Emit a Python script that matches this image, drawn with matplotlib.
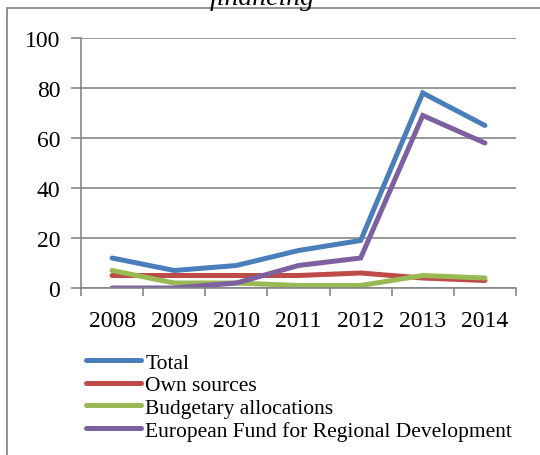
import matplotlib.pyplot as plt
from matplotlib.patches import Rectangle

years = ['2008', '2009', '2010', '2011', '2012', '2013', '2014']
total = [12, 7, 9, 15, 19, 78, 65]
own_sources = [5, 5, 5, 5, 6, 4, 3]
budgetary = [7, 2, 2, 1, 1, 5, 4]
efrd = [0, 0, 2, 9, 12, 69, 58]

labels = ['Total', 'Own sources', 'Budgetary allocations',
          'European Fund for Regional Development']
colors = ['#4A7EBB', '#BE4B48', '#98B954', '#7D60A0']

plt.rcParams['font.family'] = ['Liberation Serif', 'DejaVu Serif']

fig = plt.figure(figsize=(5.4, 4.56), dpi=100)
ax = fig.add_axes([81 / 540, 1 - 289 / 456, (516 - 81) / 540, (289 - 39) / 456])

# figure border (clipped on right and bottom)
fig.patches.append(Rectangle((7 / 540, -0.1), 1.2, 1 - 9 / 456 + 0.1,
                             transform=fig.transFigure, fill=False,
                             edgecolor='#7f7f7f', linewidth=1.2))

# title of the chart, cut off at the top like in the source
fig.text(262 / 540, 1 - 5 / 456, 'financing', ha='center', va='baseline',
         fontsize=20, style='italic')

x = range(len(years))
for vals, lab, col in zip([total, own_sources, budgetary, efrd], labels, colors):
    ax.plot(x, vals, color=col, linewidth=3.6, label=lab,
            solid_capstyle='round', solid_joinstyle='miter')

ax.set_xlim(-0.5, 6.5)
ax.set_ylim(0, 100)
ax.set_yticks(range(0, 101, 20))
ax.set_xticks(list(x))
ax.set_xticklabels(years)
ax.set_xticks([i - 0.5 for i in range(8)], minor=True)
ax.tick_params(axis='x', which='major', length=0, pad=15.5, labelsize=17)
ax.tick_params(axis='x', which='minor', length=6, color='#868686', width=1.2)
ax.tick_params(axis='y', length=7, color='#868686', width=1.2, labelsize=17, pad=8)
ax.grid(axis='y', color='#868686', linewidth=1.2)
ax.set_axisbelow(True)
for s in ['top', 'right']:
    ax.spines[s].set_visible(False)
for s in ['left', 'bottom']:
    ax.spines[s].set_color('#868686')
    ax.spines[s].set_linewidth(1.2)

fig.legend(loc='upper left', bbox_to_anchor=(77 / 540, 1 - 345 / 456),
           frameon=False, fontsize=15.5, handlelength=2.55, handletextpad=0.23,
           labelspacing=0.12, borderaxespad=0)

fig.savefig('out.png')
